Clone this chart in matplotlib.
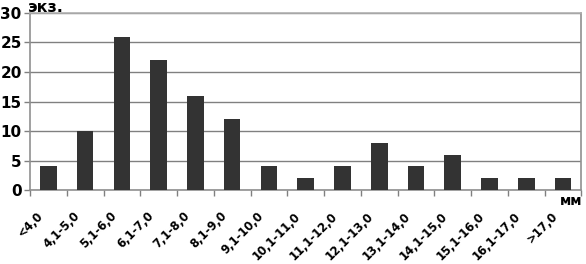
import matplotlib
matplotlib.use("Agg")
import matplotlib.pyplot as plt
import matplotlib.transforms as mtransforms
import numpy as np

# размерные классы и число экземпляров
classes = ["<4,0", "4,1-5,0", "5,1-6,0", "6,1-7,0", "7,1-8,0", "8,1-9,0",
           "9,1-10,0", "10,1-11,0", "11,1-12,0", "12,1-13,0", "13,1-14,0",
           "14,1-15,0", "15,1-16,0", "16,1-17,0", ">17,0"]
counts = [4, 10, 26, 22, 16, 12, 4, 2, 4, 8, 4, 6, 2, 2, 2]
yticks = [0, 5, 10, 15, 20, 25, 30]

plt.rcParams['font.family'] = ['DejaVu Sans']
plt.rcParams['font.weight'] = 'bold'

fig = plt.figure(figsize=(5.86, 2.64), dpi=100)
ax = fig.add_axes([0.0512, 0.280, 0.941, 0.671])

x = np.arange(len(classes))
ax.bar(x, counts, width=0.45, color='#333333', zorder=3)

ax.set_xlim(-0.5, len(classes) - 0.5)
ax.set_ylim(0, 30)
ax.set_yticks(yticks)
ax.set_yticklabels([str(t) for t in yticks], fontsize=11, fontweight='bold')
ax.yaxis.grid(True, color='#808080', linewidth=1, zorder=0)

ax.set_xticks(x)
ax.set_xticklabels(classes, rotation=45, ha='right', rotation_mode='anchor',
                   fontsize=8.4, fontweight='bold')
ax.tick_params(axis='x', length=0, pad=14)
shift = mtransforms.ScaledTranslation(-12 / 100, 0, fig.dpi_scale_trans)
for lbl in ax.get_xticklabels():
    lbl.set_transform(lbl.get_transform() + shift)
ax.set_xticks(np.arange(-0.5, len(classes), 1), minor=True)
ax.tick_params(axis='x', which='minor', length=4, color='#808080', width=1)
ax.tick_params(axis='y', length=4, color='#808080', width=1, pad=2)

for s in ['left', 'right', 'bottom', 'top']:
    ax.spines[s].set_color('#909090')
    ax.spines[s].set_linewidth(1.2)
ax.spines['top'].set_color('#b0b0b0')

fig.text(0.048, 1.0, "экз.", fontsize=11.5, fontweight='bold', ha='left', va='top')
fig.text(0.994, 0.237, "мм", fontsize=10, fontweight='bold', ha='right', va='center')

fig.savefig("out.png", dpi=100)
